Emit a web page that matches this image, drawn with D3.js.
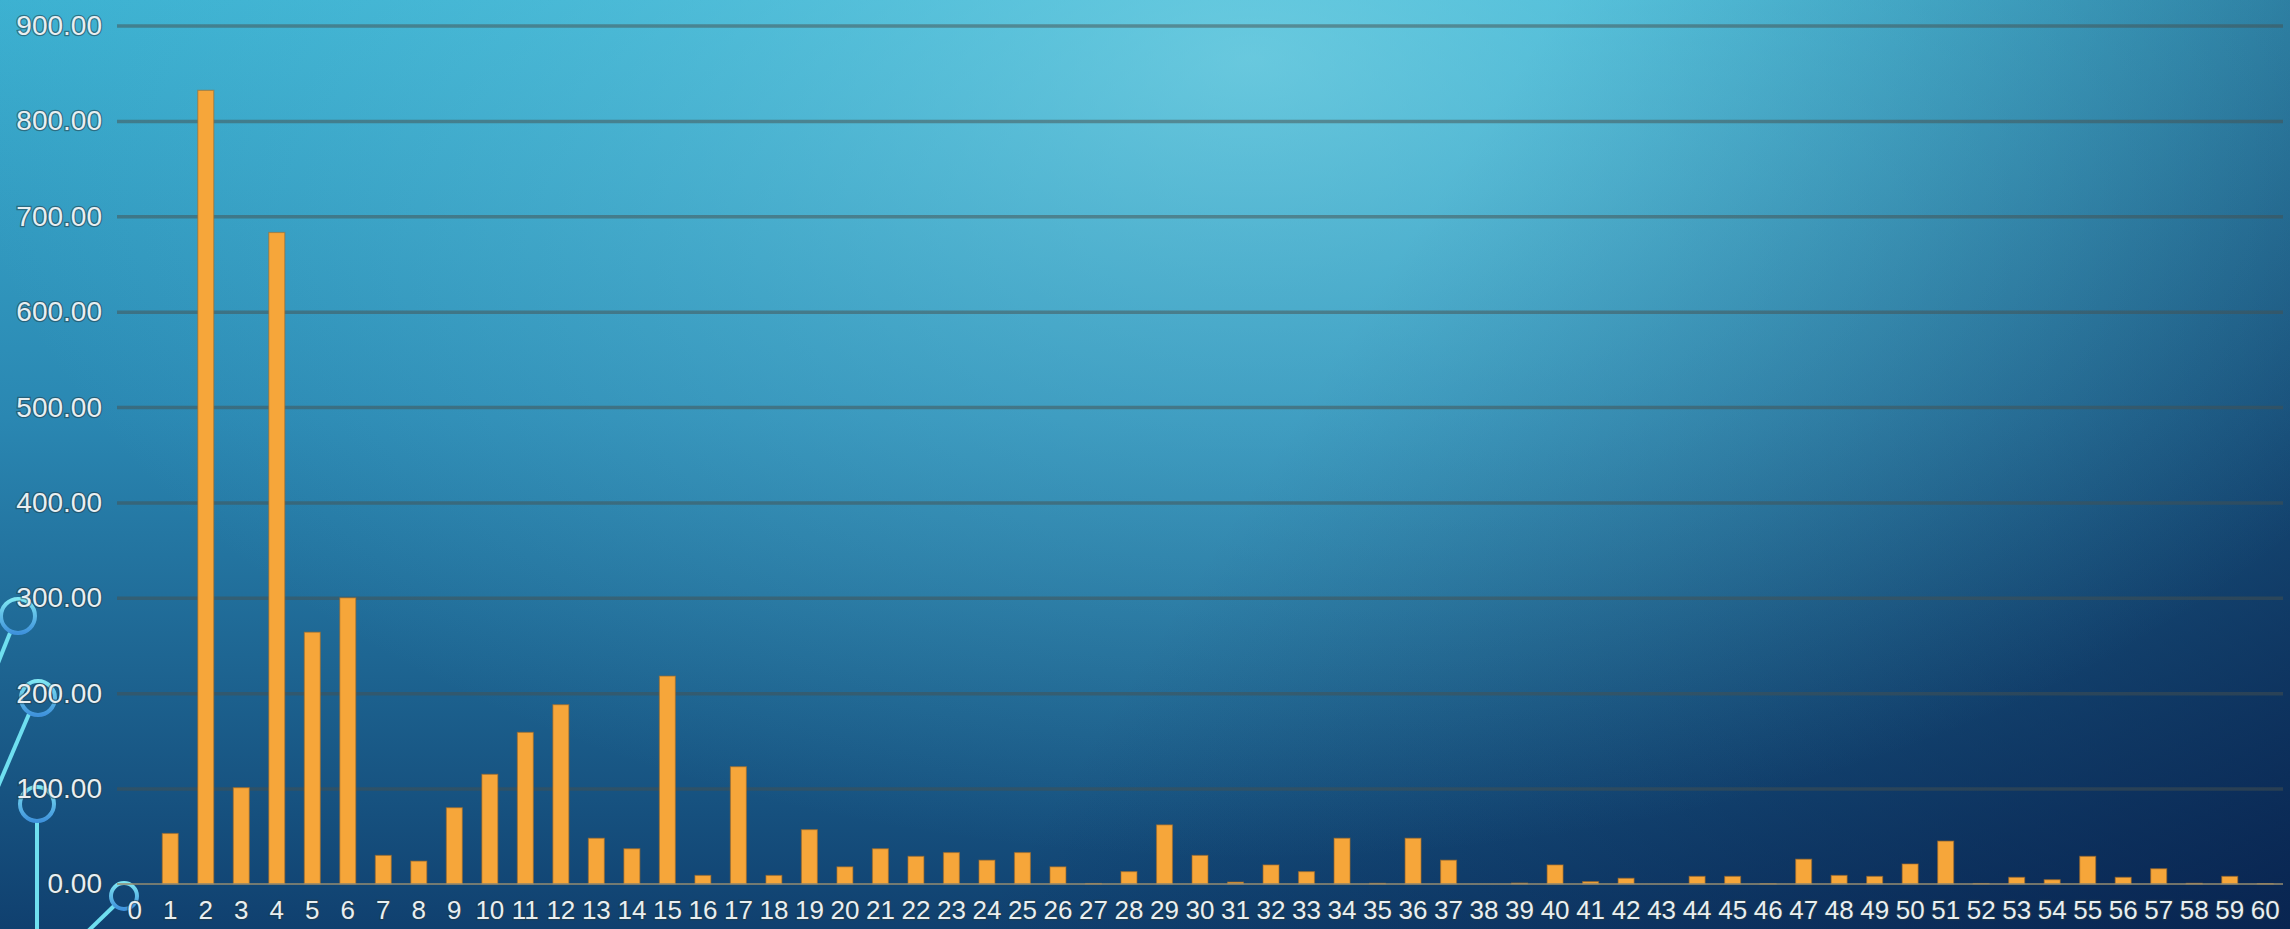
<!DOCTYPE html>
<html>
<head>
<meta charset="utf-8">
<script src="https://cdn.jsdelivr.net/npm/d3@7"></script>
<style>
  html, body { margin: 0; padding: 0; background: #0f3d6c; overflow: hidden; }
  svg { display: block; }
  .tick text { font-family: "Liberation Sans", Arial, sans-serif; }
</style>
</head>
<body>
<svg id="chart" width="2290" height="929"></svg>
<script>
// Category labels along the x axis
const categories = ["0","1","2","3","4","5","6","7","8","9","10","11","12","13","14","15","16","17","18","19","20",
  "21","22","23","24","25","26","27","28","29","30","31","32","33","34","35","36","37","38","39","40",
  "41","42","43","44","45","46","47","48","49","50","51","52","53","54","55","56","57","58","59","60"];

// Bar values, one per category
const values = [0, 53, 832, 101, 683, 264, 300, 30, 24, 80, 115, 159, 188, 48, 37, 218, 9, 123, 9, 57, 18,
  37, 29, 33, 25, 33, 18, 0.5, 13, 62, 30, 2, 20, 13, 48, 0.7, 48, 25, 0, 1, 20,
  2.5, 6, 0, 8, 8, 0.3, 26, 9, 8, 21, 45, 0.5, 7, 4.5, 29, 7, 16, 0.7, 8, 0.4];

// Value-axis ticks
const yTicks = [0, 100, 200, 300, 400, 500, 600, 700, 800, 900];

// Decorative circuit nodes at the lower left: [cx, cy, r] and their leads
const nodes = [[18, 616, 17], [38, 698, 17], [37, 804, 17], [124, 896, 13]];
const leads = [[[10, 633], [-8, 678]], [[29, 714], [-6, 796]], [[37, 821], [37, 935]], [[114, 906], [84, 935]]];

const W = 2290, H = 929;
const svg = d3.select("#chart");
const defs = svg.append("defs");

// ---- background ----
const base = defs.append("linearGradient").attr("id", "bgBase")
  .attr("gradientUnits", "userSpaceOnUse").attr("x1", 0).attr("y1", 0).attr("x2", 0).attr("y2", H);
[[0, "#3cb1d1"], [0.45, "#2a87b2"], [1, "#10406f"]].forEach(([o, c]) =>
  base.append("stop").attr("offset", o).attr("stop-color", c));

const glow = defs.append("radialGradient").attr("id", "bgGlow")
  .attr("gradientUnits", "userSpaceOnUse").attr("cx", 1250).attr("cy", 60).attr("r", 1000)
  .attr("gradientTransform", "translate(1250,60) scale(1.3,0.8) translate(-1250,-60)");
[[0, "#8ee0ec", 0.55], [0.5, "#6fd0e4", 0.28], [1, "#5cc4dc", 0]].forEach(([o, c, a]) =>
  glow.append("stop").attr("offset", o).attr("stop-color", c).attr("stop-opacity", a));

const shade = defs.append("linearGradient").attr("id", "bgShade")
  .attr("gradientUnits", "userSpaceOnUse").attr("x1", 1350).attr("y1", 330).attr("x2", 2290).attr("y2", 929);
[[0, "#061a45", 0], [0.5, "#061a45", 0.35], [1, "#061a45", 0.72]].forEach(([o, c, a]) =>
  shade.append("stop").attr("offset", o).attr("stop-color", c).attr("stop-opacity", a));

svg.append("rect").attr("width", W).attr("height", H).attr("fill", "url(#bgBase)");
svg.append("rect").attr("width", W).attr("height", H).attr("fill", "url(#bgShade)");
svg.append("rect").attr("width", W).attr("height", H).attr("fill", "url(#bgGlow)");

// ---- decoration ----
const ring = defs.append("linearGradient").attr("id", "ring")
  .attr("x1", 0).attr("y1", 0).attr("x2", 0).attr("y2", 1);
ring.append("stop").attr("offset", 0).attr("stop-color", "#7fe6f2");
ring.append("stop").attr("offset", 1).attr("stop-color", "#3f92dc");

const deco = svg.append("g");
deco.selectAll("line").data(leads).join("line")
  .attr("x1", d => d[0][0]).attr("y1", d => d[0][1])
  .attr("x2", d => d[1][0]).attr("y2", d => d[1][1])
  .attr("stroke", "#6fdff0").attr("stroke-width", 4);
deco.selectAll("circle").data(nodes).join("circle")
  .attr("cx", d => d[0]).attr("cy", d => d[1]).attr("r", d => d[2])
  .attr("fill", "none").attr("stroke", "url(#ring)").attr("stroke-width", 4);

// ---- scales ----
const margin = { left: 117, right: 7, top: 25.5, bottom: 45 };
const x = d3.scaleBand().domain(categories)
  .range([margin.left, W - margin.right])
  .paddingInner(0.55).paddingOuter(0.275);
const y = d3.scaleLinear().domain([0, 900]).range([884, margin.top]);

// ---- gridlines ----
const grid = svg.append("g").attr("transform", `translate(${margin.left},0)`)
  .call(d3.axisLeft(y).tickValues(yTicks.filter(t => t > 0))
    .tickSize(-(W - margin.right - margin.left)).tickFormat(""));
grid.select(".domain").remove();
grid.selectAll(".tick line").attr("stroke", "rgba(70,80,78,0.5)").attr("stroke-width", 3.5);

// ---- bars ----
svg.append("g").selectAll("rect").data(values).join("rect")
  .attr("x", (d, i) => x(categories[i]))
  .attr("width", x.bandwidth())
  .attr("y", d => y(d))
  .attr("height", d => y(0) - y(d))
  .attr("fill", "#f6a63a")
  .attr("stroke", "rgba(160,105,40,0.55)")
  .attr("stroke-width", 1.2);

// ---- baseline ----
svg.append("line")
  .attr("x1", margin.left).attr("x2", W - margin.right)
  .attr("y1", y(0)).attr("y2", y(0))
  .attr("stroke", "rgba(150,140,112,0.75)").attr("stroke-width", 2);

// ---- axes labels ----
const labelStyle = size => sel => sel
  .attr("fill", "#e9eff1")
  .attr("stroke", "rgba(35,60,70,0.55)")
  .attr("stroke-width", 2.5)
  .attr("paint-order", "stroke")
  .style("font-size", size + "px");

const yAxis = svg.append("g").attr("transform", `translate(${margin.left},0)`)
  .call(d3.axisLeft(y).tickValues(yTicks).tickSize(0).tickPadding(15).tickFormat(d3.format(".2f")));
yAxis.select(".domain").remove();
yAxis.selectAll(".tick text").call(labelStyle(28));

const xAxis = svg.append("g").attr("transform", `translate(0,${y(0)})`)
  .call(d3.axisBottom(x).tickSize(0).tickPadding(17));
xAxis.select(".domain").remove();
xAxis.selectAll(".tick text").call(labelStyle(26));
</script>
</body>
</html>
